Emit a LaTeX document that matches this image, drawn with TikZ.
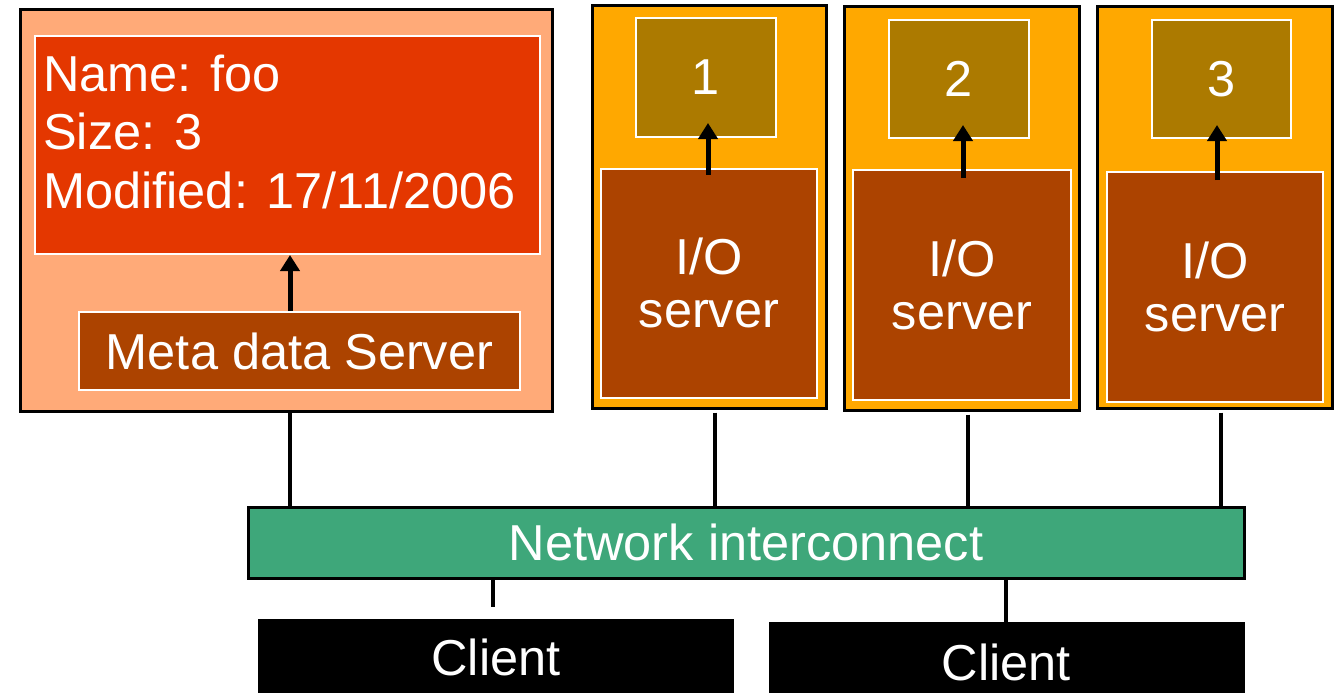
\documentclass[tikz,border=0pt]{standalone}
\usepackage{fontspec}
\setmainfont{Liberation Sans}
\usetikzlibrary{arrows.meta}
\definecolor{metabg}{HTML}{FFAA78}
\definecolor{recred}{HTML}{E43700}
\definecolor{srvbrown}{HTML}{AC4300}
\definecolor{iobg}{HTML}{FFA800}
\definecolor{blockcol}{HTML}{AC7A00}
\definecolor{netgreen}{HTML}{3EA77A}
\tikzset{
  x=1pt, y=-1pt,
  every node/.style={font=\fontsize{50.5}{53}\selectfont, text=white, inner sep=0pt},
  hostbox/.style={draw=black, line width=3pt, minimum width=#1},
  innerbox/.style={draw=white, line width=2pt},
  conn/.style={draw=black, line width=3.5pt},
  arr/.style={draw=black, line width=5pt, -{Triangle[width=19pt,length=16pt]}},
}
\begin{document}
\begin{tikzpicture}
\useasboundingbox (0,0) rectangle (1339,693);

% metadata host
\node[hostbox=532pt, fill=metabg, minimum height=401pt] (meta) at (286,210.5) {};
\node[innerbox, fill=recred, minimum width=505pt, minimum height=218pt] (rec) at (287.5,145) {};
\node[anchor=base west] (recname) at (43,92) {Name: foo};
\node[anchor=base west] (recsize) at (43,149) {Size: 3};
\node[anchor=base west] (recmod) at (43,208) {Modified: 17/11/2006};
\node[innerbox, fill=srvbrown, minimum width=441pt, minimum height=78pt] (mds) at (299.5,351) {Meta data Server};
\draw[arr] ([xshift=-9.5pt]mds.north) -- ([xshift=-9.5pt]mds.north |- rec.south);

% I/O hosts
\node[hostbox=234pt, fill=iobg, minimum height=402pt] (h1) at (709,207) {};
\node[innerbox, fill=blockcol, minimum width=140pt, minimum height=119pt] (b1) at (706,77.5) {1};
\node[innerbox, fill=srvbrown, minimum width=216pt, minimum height=229pt, align=center] (io1) at (709,283) {I/O\\server};
\draw[arr] ([xshift=-1pt,yshift=-7pt]io1.north) -- ([xshift=-1pt,yshift=15pt]io1.north |- b1.south);

\node[hostbox=235pt, fill=iobg, minimum height=403pt] (h2) at (961.5,208.5) {};
\node[innerbox, fill=blockcol, minimum width=140pt, minimum height=118pt] (b2) at (959,79) {2};
\node[innerbox, fill=srvbrown, minimum width=218pt, minimum height=230pt, align=center] (io2) at (962,285) {I/O\\server};
\draw[arr] ([xshift=1pt,yshift=-9pt]io2.north) -- ([xshift=1pt,yshift=14pt]io2.north |- b2.south);

\node[hostbox=235pt, fill=iobg, minimum height=401pt] (h3) at (1214.5,207.5) {};
\node[innerbox, fill=blockcol, minimum width=139pt, minimum height=118pt] (b3) at (1221.5,79) {3};
\node[innerbox, fill=srvbrown, minimum width=216pt, minimum height=230pt, align=center] (io3) at (1215,287) {I/O\\server};
\draw[arr] ([xshift=2pt,yshift=-9pt]io3.north) -- ([xshift=2pt,yshift=14pt]io3.north |- b3.south);

% network
\node[hostbox=996pt, fill=netgreen, minimum height=71pt] (net) at (746,542.5) {Network interconnect};
\draw[conn] ([xshift=4pt]meta.south) -- ([xshift=4pt]meta.south |- net.north);
\draw[conn] ([xshift=6pt,yshift=-3pt]h1.south) -- ([xshift=6pt]h1.south |- net.north);
\draw[conn] ([xshift=6.5pt,yshift=-3pt]h2.south) -- ([xshift=6.5pt]h2.south |- net.north);
\draw[conn] ([xshift=6.5pt,yshift=-3pt]h3.south) -- ([xshift=6.5pt]h3.south |- net.north);

% clients
\node[fill=black, minimum width=476pt, minimum height=76pt] (c1) at (496,657) {Client};
\node[fill=black, minimum width=476pt, minimum height=80pt] (c2) at (1006.5,662) {Client};
\draw[conn] ([xshift=-3pt,yshift=12pt]c1.north) -- ([xshift=-3pt]c1.north |- net.south);
\draw[conn] ([xshift=-0.5pt]c2.north) -- ([xshift=-0.5pt,yshift=3pt]c2.north |- net.south);
\end{tikzpicture}
\end{document}
